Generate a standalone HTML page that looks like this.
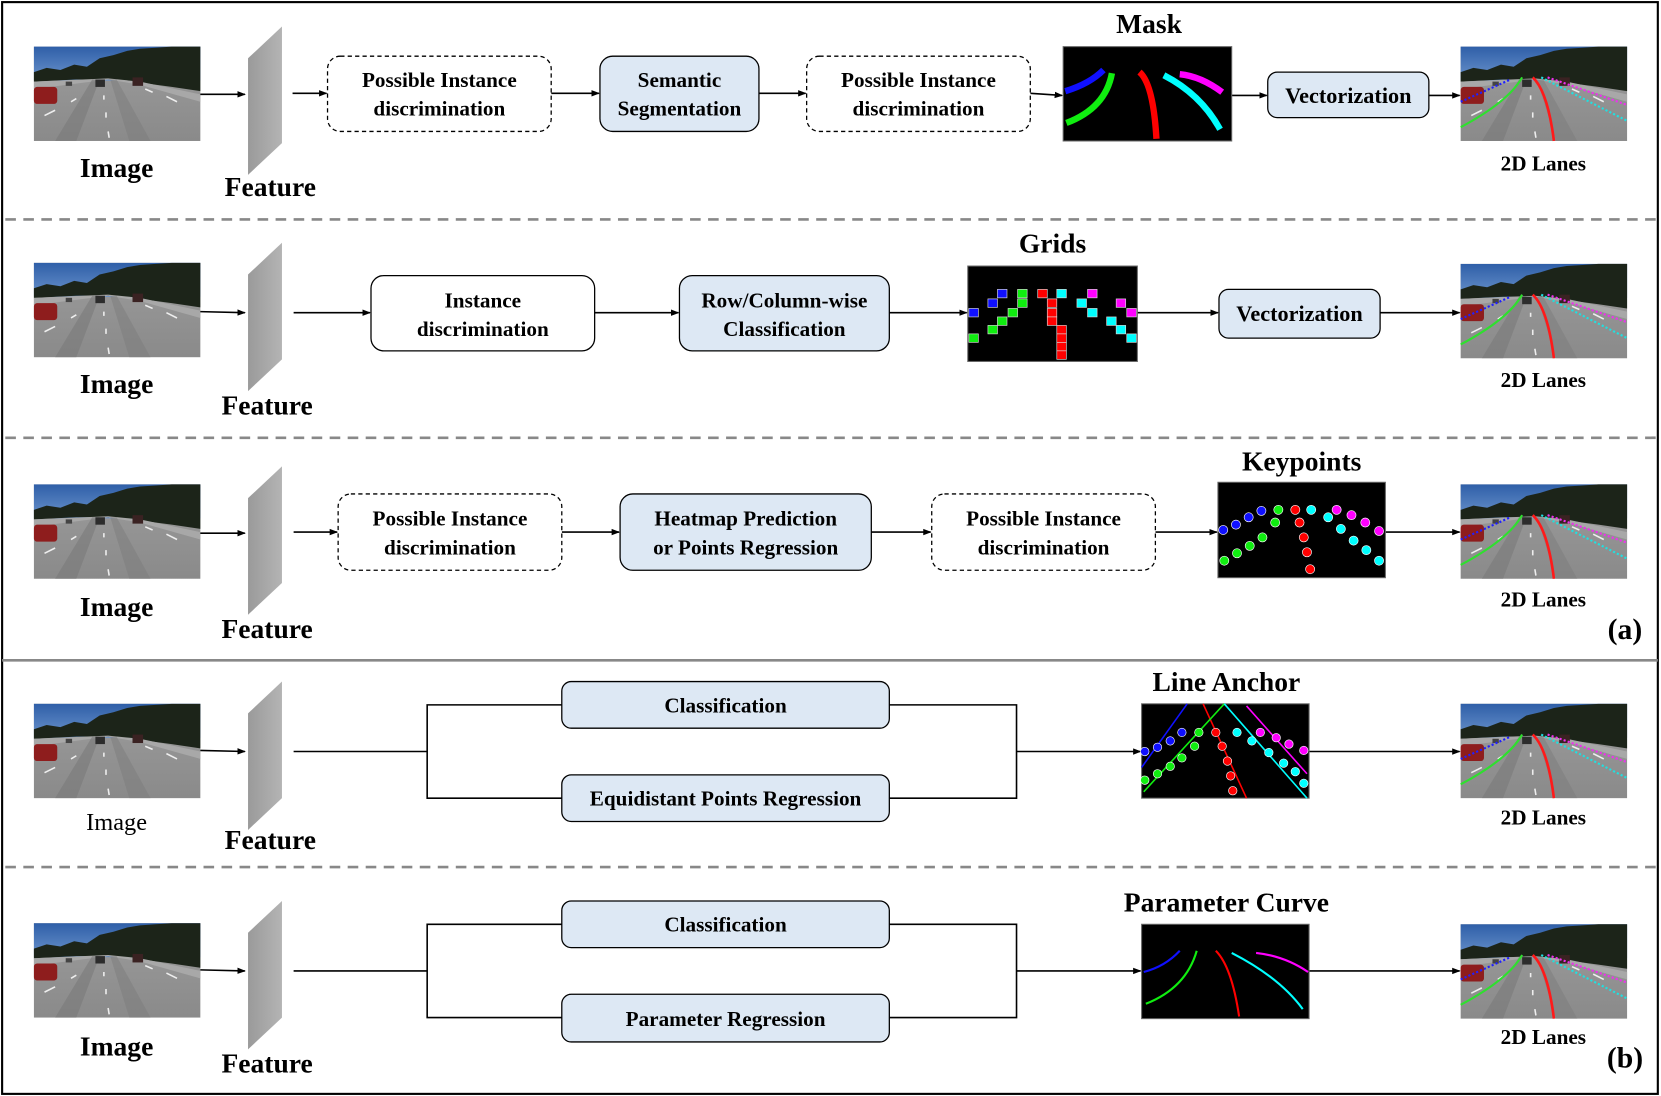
<!DOCTYPE html>
<html><head><meta charset="utf-8"><style>
html,body{margin:0;padding:0;background:#fff;}
svg{display:block;}
text{font-family:"Liberation Serif","Times New Roman",serif;font-weight:bold;fill:#000;}
</style></head><body>
<svg width="1661" height="1096" viewBox="0 0 1567 1034" preserveAspectRatio="none" xmlns="http://www.w3.org/2000/svg" font-family="Liberation Serif, serif">
<defs>
<marker id="ar" markerWidth="8" markerHeight="8" refX="7" refY="4" orient="auto" markerUnits="userSpaceOnUse"><path d="M0,1 L8,4 L0,7 Z" fill="#000"/></marker>
<linearGradient id="sky" x1="0" y1="0" x2="0" y2="1"><stop offset="0" stop-color="#2f5fa8"/><stop offset="1" stop-color="#6a93cc"/></linearGradient>
<linearGradient id="rd" x1="0" y1="0" x2="0" y2="1"><stop offset="0" stop-color="#9c9c9c"/><stop offset="1" stop-color="#8a8a8a"/></linearGradient>
<linearGradient id="ft" x1="0" y1="0" x2="1" y2="0"><stop offset="0" stop-color="#9a9a9a"/><stop offset="1" stop-color="#b4b4b4"/></linearGradient>
<g id="road">
<rect x="0" y="0" width="157" height="89" fill="url(#rd)"/>
<rect x="0" y="0" width="157" height="32" fill="url(#sky)"/>
<polygon points="0,24 12,20 25,22 38,17 50,19 62,11 75,8 88,4 100,2 115,1 130,0 157,0 157,42 130,38 100,34 70,31 40,31 0,33" fill="#1c2419"/>
<polygon points="0,33 70,30 100,33 157,45 157,52 100,36 70,31 0,40" fill="#a8a8a8"/>
<polygon points="55,31 62,31 40,89 20,89" fill="#7a7a7a" opacity="0.6"/>
<polygon points="72,31 78,31 110,89 90,89" fill="#7c7c7c" opacity="0.5"/>
<rect x="0" y="38" width="22" height="16" rx="3" fill="#8e1d1d"/>
<rect x="58" y="31" width="9" height="7" fill="#2c2c2c"/>
<rect x="93" y="29" width="10" height="8" fill="#3a2222"/>
<rect x="30" y="33" width="6" height="4" fill="#444"/>
<path d="M10,65 L20,60 M35,52 L40,49 M66,46 L66,50 M68,62 L68,67 M70,80 L71,86 M105,40 L112,43 M125,47 L135,52" stroke="#eee" stroke-width="1.5"/>
</g>
<g id="lanes">
<use href="#road"/>
<path d="M0,52 L47,31" stroke="#2020ff" stroke-width="2" stroke-dasharray="2,2"/>
<path d="M0,76 Q45,52 58,29" stroke="#2ee02e" stroke-width="2" fill="none"/>
<path d="M68,29 Q82,42 88,89" stroke="#ff1a1a" stroke-width="2.5" fill="none"/>
<path d="M76,29 L157,70" stroke="#20e0e0" stroke-width="2" stroke-dasharray="2,2"/>
<path d="M82,29 L157,55" stroke="#ee30ee" stroke-width="2" stroke-dasharray="2,2"/>
</g>
<path id="feat" d="M0,30 L32,0 L32,110 L0,140 Z" fill="url(#ft)"/>
</defs>

<rect x="2" y="2" width="1562" height="1030" fill="#fff" stroke="#000" stroke-width="2"/>
<line x1="2" y1="623" x2="1564" y2="623" stroke="#888" stroke-width="2.5"/>
<g stroke="#888" stroke-width="2.5" stroke-dasharray="10,7">
<line x1="5" y1="207" x2="1562" y2="207"/>
<line x1="5" y1="413" x2="1562" y2="413"/>
<line x1="5" y1="818" x2="1562" y2="818"/>
</g>

<!-- Row 1 -->
<use href="#road" x="32" y="44"/>
<text x="110" y="167" font-size="26" text-anchor="middle">Image</text>
<use href="#feat" x="234" y="25"/>
<text x="255" y="185" font-size="26" text-anchor="middle">Feature</text>
<g stroke="#000" stroke-width="1.5" fill="none" marker-end="url(#ar)">
<line x1="189" y1="89" x2="231" y2="89"/>
<line x1="276" y1="88" x2="308" y2="88"/>
<line x1="520" y1="88" x2="565" y2="88"/>
<line x1="716" y1="88" x2="760" y2="88"/>
<line x1="972" y1="88" x2="1002" y2="90"/>
<line x1="1162" y1="90" x2="1195" y2="90"/>
<line x1="1348" y1="90" x2="1377" y2="90"/>
</g>
<rect x="309" y="53" width="211" height="71" rx="12" fill="#fff" stroke="#000" stroke-width="1.2" stroke-dasharray="4,3"/>
<text x="414.5" y="82" font-size="20" text-anchor="middle">Possible Instance</text>
<text x="414.5" y="109" font-size="20" text-anchor="middle">discrimination</text>
<rect x="566" y="53" width="150" height="71" rx="12" fill="#dde8f4" stroke="#000" stroke-width="1.2"/>
<text x="641" y="82" font-size="20" text-anchor="middle">Semantic</text>
<text x="641" y="109" font-size="20" text-anchor="middle">Segmentation</text>
<rect x="761" y="53" width="211" height="71" rx="12" fill="#fff" stroke="#000" stroke-width="1.2" stroke-dasharray="4,3"/>
<text x="866.5" y="82" font-size="20" text-anchor="middle">Possible Instance</text>
<text x="866.5" y="109" font-size="20" text-anchor="middle">discrimination</text>
<text x="1084" y="31" font-size="26" text-anchor="middle">Mask</text>
<g transform="translate(1003,44)">
<rect width="159" height="89" fill="#000" stroke="#666"/>
<g fill="none" stroke-width="6" stroke-linecap="butt">
<path d="M2,42 Q25,35 38,22" stroke="#1010ff"/>
<path d="M3,72 Q40,58 46,25" stroke="#10ee10"/>
<path d="M72,24 Q85,35 88,87" stroke="#ff0000"/>
<path d="M95,27 Q130,45 148,78" stroke="#00ffff"/>
<path d="M110,26 Q130,28 150,43" stroke="#ff00ff"/>
</g></g>
<rect x="1196" y="68" width="152" height="43" rx="9" fill="#dde8f4" stroke="#000" stroke-width="1.2"/>
<text x="1272" y="97" font-size="21" text-anchor="middle">Vectorization</text>
<use href="#lanes" x="1378" y="44"/>
<text x="1456" y="161" font-size="20" text-anchor="middle">2D Lanes</text>

<!-- Row 2 -->
<use href="#road" x="32" y="248"/>
<text x="110" y="371" font-size="26" text-anchor="middle">Image</text>
<use href="#feat" x="234" y="229"/>
<text x="252" y="391" font-size="26" text-anchor="middle">Feature</text>
<g stroke="#000" stroke-width="1.5" fill="none" marker-end="url(#ar)">
<line x1="189" y1="294" x2="231" y2="295"/>
<line x1="277" y1="295" x2="349" y2="295"/>
<line x1="561" y1="295" x2="640" y2="295"/>
<line x1="839" y1="295" x2="912" y2="295"/>
<line x1="1073" y1="295" x2="1149" y2="295"/>
<line x1="1302" y1="295" x2="1377" y2="295"/>
</g>
<rect x="350" y="260" width="211" height="71" rx="12" fill="#fff" stroke="#000" stroke-width="1.2"/>
<text x="455.5" y="290" font-size="20" text-anchor="middle">Instance</text>
<text x="455.5" y="317" font-size="20" text-anchor="middle">discrimination</text>
<rect x="641" y="260" width="198" height="71" rx="12" fill="#dde8f4" stroke="#000" stroke-width="1.2"/>
<text x="740" y="290" font-size="20" text-anchor="middle">Row/Column-wise</text>
<text x="740" y="317" font-size="20" text-anchor="middle">Classification</text>
<text x="993" y="238" font-size="26" text-anchor="middle">Grids</text>
<g transform="translate(913,251)">
<rect width="160" height="90" fill="#000" stroke="#666"/>
<g stroke="#ddd" stroke-width="0.6">
<g fill="#1010ff"><rect x="1" y="40" width="9" height="8"/><rect x="19" y="31" width="9" height="8"/><rect x="28" y="22" width="9" height="8"/></g>
<g fill="#10ee10"><rect x="1" y="64" width="9" height="8"/><rect x="19" y="56" width="9" height="8"/><rect x="28" y="48" width="9" height="8"/><rect x="38" y="40" width="9" height="8"/><rect x="47" y="31" width="9" height="8"/><rect x="47" y="22" width="9" height="8"/></g>
<g fill="#ff0000"><rect x="66" y="22" width="9" height="8"/><rect x="75" y="31" width="9" height="8"/><rect x="75" y="40" width="9" height="8"/><rect x="75" y="48" width="9" height="8"/><rect x="84" y="56" width="9" height="8"/><rect x="84" y="64" width="9" height="8"/><rect x="84" y="72" width="9" height="8"/><rect x="84" y="80" width="9" height="8"/></g>
<g fill="#00ffff"><rect x="84" y="22" width="9" height="8"/><rect x="103" y="31" width="9" height="8"/><rect x="113" y="40" width="9" height="8"/><rect x="131" y="48" width="9" height="8"/><rect x="140" y="56" width="9" height="8"/><rect x="150" y="64" width="9" height="8"/></g>
<g fill="#ff00ff"><rect x="113" y="22" width="9" height="8"/><rect x="140" y="31" width="9" height="8"/><rect x="150" y="40" width="9" height="8"/></g>
</g></g>
<rect x="1150" y="273" width="152" height="46" rx="9" fill="#dde8f4" stroke="#000" stroke-width="1.2"/>
<text x="1226" y="303" font-size="21" text-anchor="middle">Vectorization</text>
<use href="#lanes" x="1378" y="249"/>
<text x="1456" y="365" font-size="20" text-anchor="middle">2D Lanes</text>

<!-- Row 3 -->
<use href="#road" x="32" y="457"/>
<text x="110" y="581" font-size="26" text-anchor="middle">Image</text>
<use href="#feat" x="234" y="440"/>
<text x="252" y="602" font-size="26" text-anchor="middle">Feature</text>
<g stroke="#000" stroke-width="1.5" fill="none" marker-end="url(#ar)">
<line x1="189" y1="503" x2="231" y2="503"/>
<line x1="277" y1="502" x2="318" y2="502"/>
<line x1="530" y1="502" x2="584" y2="502"/>
<line x1="822" y1="502" x2="878" y2="502"/>
<line x1="1090" y1="502" x2="1148" y2="502"/>
<line x1="1307" y1="502" x2="1377" y2="502"/>
</g>
<rect x="319" y="466" width="211" height="72" rx="12" fill="#fff" stroke="#000" stroke-width="1.2" stroke-dasharray="4,3"/>
<text x="424.5" y="496" font-size="20" text-anchor="middle">Possible Instance</text>
<text x="424.5" y="523" font-size="20" text-anchor="middle">discrimination</text>
<rect x="585" y="466" width="237" height="72" rx="12" fill="#dde8f4" stroke="#000" stroke-width="1.2"/>
<text x="703.5" y="496" font-size="20" text-anchor="middle">Heatmap Prediction</text>
<text x="703.5" y="523" font-size="20" text-anchor="middle">or Points Regression</text>
<rect x="879" y="466" width="211" height="72" rx="12" fill="#fff" stroke="#000" stroke-width="1.2" stroke-dasharray="4,3"/>
<text x="984.5" y="496" font-size="20" text-anchor="middle">Possible Instance</text>
<text x="984.5" y="523" font-size="20" text-anchor="middle">discrimination</text>
<text x="1228" y="444" font-size="26" text-anchor="middle">Keypoints</text>
<g transform="translate(1149,455)">
<rect width="158" height="90" fill="#000" stroke="#666"/>
<g stroke="#fff" stroke-width="0.6">
<g fill="#1010ff"><circle cx="5" cy="45" r="4.3"/><circle cx="17" cy="40" r="4.3"/><circle cx="29" cy="33" r="4.3"/><circle cx="41" cy="27" r="4.3"/></g>
<g fill="#10ee10"><circle cx="6" cy="74" r="4.3"/><circle cx="18" cy="67" r="4.3"/><circle cx="30" cy="60" r="4.3"/><circle cx="42" cy="52" r="4.3"/><circle cx="54" cy="38" r="4.3"/><circle cx="57" cy="26" r="4.3"/></g>
<g fill="#ff0000"><circle cx="73" cy="26" r="4.3"/><circle cx="77" cy="38" r="4.3"/><circle cx="81" cy="52" r="4.3"/><circle cx="84" cy="66" r="4.3"/><circle cx="87" cy="82" r="4.3"/></g>
<g fill="#00ffff"><circle cx="88" cy="26" r="4.3"/><circle cx="104" cy="33" r="4.3"/><circle cx="116" cy="44" r="4.3"/><circle cx="128" cy="55" r="4.3"/><circle cx="140" cy="64" r="4.3"/><circle cx="152" cy="74" r="4.3"/></g>
<g fill="#ff00ff"><circle cx="112" cy="26" r="4.3"/><circle cx="126" cy="31" r="4.3"/><circle cx="139" cy="38" r="4.3"/><circle cx="152" cy="46" r="4.3"/></g>
</g></g>
<use href="#lanes" x="1378" y="457"/>
<text x="1456" y="572" font-size="20" text-anchor="middle">2D Lanes</text>
<text x="1533" y="603" font-size="28" text-anchor="middle">(a)</text>

<!-- Row 4 -->
<use href="#road" x="32" y="664"/>
<text x="110" y="783" font-size="23" style="font-weight:normal" text-anchor="middle">Image</text>
<use href="#feat" x="234" y="643"/>
<text x="255" y="801" font-size="26" text-anchor="middle">Feature</text>
<g stroke="#000" stroke-width="1.5" fill="none">
<line x1="189" y1="708" x2="231" y2="709" marker-end="url(#ar)"/>
<polyline points="277,709 403,709"/>
<polyline points="530,665 403,665 403,753 530,753"/>
<polyline points="839,665 959,665 959,753 839,753"/>
<line x1="959" y1="709" x2="1076" y2="709" marker-end="url(#ar)"/>
<line x1="1235" y1="709" x2="1377" y2="709" marker-end="url(#ar)"/>
</g>
<rect x="530" y="643" width="309" height="44" rx="9" fill="#dde8f4" stroke="#000" stroke-width="1.2"/>
<text x="684.5" y="672" font-size="20" text-anchor="middle">Classification</text>
<rect x="530" y="731" width="309" height="44" rx="9" fill="#dde8f4" stroke="#000" stroke-width="1.2"/>
<text x="684.5" y="760" font-size="20" text-anchor="middle">Equidistant Points Regression</text>
<text x="1157" y="652" font-size="26" text-anchor="middle">Line Anchor</text>
<g transform="translate(1077,664)">
<rect width="158" height="89" fill="#000" stroke="#666"/>
<g stroke-width="1.5">
<line x1="43" y1="0" x2="0" y2="60" stroke="#1010ff"/>
<line x1="58" y1="0" x2="99" y2="89" stroke="#ff0000"/>
<line x1="78" y1="0" x2="2" y2="83" stroke="#10ee10"/>
<line x1="78" y1="0" x2="156" y2="89" stroke="#00ffff"/>
<line x1="99" y1="2" x2="156" y2="66" stroke="#ff00ff"/>
</g>
<g stroke="#fff" stroke-width="0.6">
<g fill="#1010ff"><circle cx="3" cy="45" r="4"/><circle cx="15" cy="41" r="4"/><circle cx="27" cy="35" r="4"/><circle cx="38" cy="27" r="4"/></g>
<g fill="#10ee10"><circle cx="3" cy="72" r="4"/><circle cx="15" cy="66" r="4"/><circle cx="27" cy="59" r="4"/><circle cx="38" cy="51" r="4"/><circle cx="50" cy="40" r="4"/><circle cx="54" cy="27" r="4"/></g>
<g fill="#ff0000"><circle cx="70" cy="27" r="4"/><circle cx="76" cy="40" r="4"/><circle cx="81" cy="54" r="4"/><circle cx="84" cy="68" r="4"/><circle cx="86" cy="82" r="4"/></g>
<g fill="#00ffff"><circle cx="90" cy="27" r="4"/><circle cx="104" cy="35" r="4"/><circle cx="120" cy="46" r="4"/><circle cx="134" cy="56" r="4"/><circle cx="145" cy="64" r="4"/><circle cx="153" cy="75" r="4"/></g>
<g fill="#ff00ff"><circle cx="112" cy="27" r="4"/><circle cx="127" cy="32" r="4"/><circle cx="139" cy="38" r="4"/><circle cx="153" cy="44" r="4"/></g>
</g></g>
<use href="#lanes" x="1378" y="664"/>
<text x="1456" y="778" font-size="20" text-anchor="middle">2D Lanes</text>

<!-- Row 5 -->
<use href="#road" x="32" y="871"/>
<text x="110" y="996" font-size="26" text-anchor="middle">Image</text>
<use href="#feat" x="234" y="850"/>
<text x="252" y="1012" font-size="26" text-anchor="middle">Feature</text>
<g stroke="#000" stroke-width="1.5" fill="none">
<line x1="189" y1="915" x2="231" y2="916" marker-end="url(#ar)"/>
<polyline points="277,916 403,916"/>
<polyline points="530,872 403,872 403,960 530,960"/>
<polyline points="839,872 959,872 959,960 839,960"/>
<line x1="959" y1="916" x2="1076" y2="916" marker-end="url(#ar)"/>
<line x1="1235" y1="916" x2="1377" y2="916" marker-end="url(#ar)"/>
</g>
<rect x="530" y="850" width="309" height="44" rx="9" fill="#dde8f4" stroke="#000" stroke-width="1.2"/>
<text x="684.5" y="879" font-size="20" text-anchor="middle">Classification</text>
<rect x="530" y="938" width="309" height="45" rx="9" fill="#dde8f4" stroke="#000" stroke-width="1.2"/>
<text x="684.5" y="968" font-size="20" text-anchor="middle">Parameter Regression</text>
<text x="1157" y="860" font-size="26" text-anchor="middle">Parameter Curve</text>
<g transform="translate(1077,872)">
<rect width="158" height="89" fill="#000" stroke="#666"/>
<g fill="none" stroke-width="2">
<path d="M2,45 Q22,40 36,25" stroke="#1010ff"/>
<path d="M4,75 Q42,60 52,25" stroke="#10ee10"/>
<path d="M70,25 Q85,40 92,87" stroke="#ff0000"/>
<path d="M85,27 Q130,50 152,80" stroke="#00ffff"/>
<path d="M108,27 Q135,30 157,45" stroke="#ff00ff"/>
</g></g>
<use href="#lanes" x="1378" y="872"/>
<text x="1456" y="985" font-size="20" text-anchor="middle">2D Lanes</text>
<text x="1533" y="1007" font-size="28" text-anchor="middle">(b)</text>
</svg>
</body></html>
